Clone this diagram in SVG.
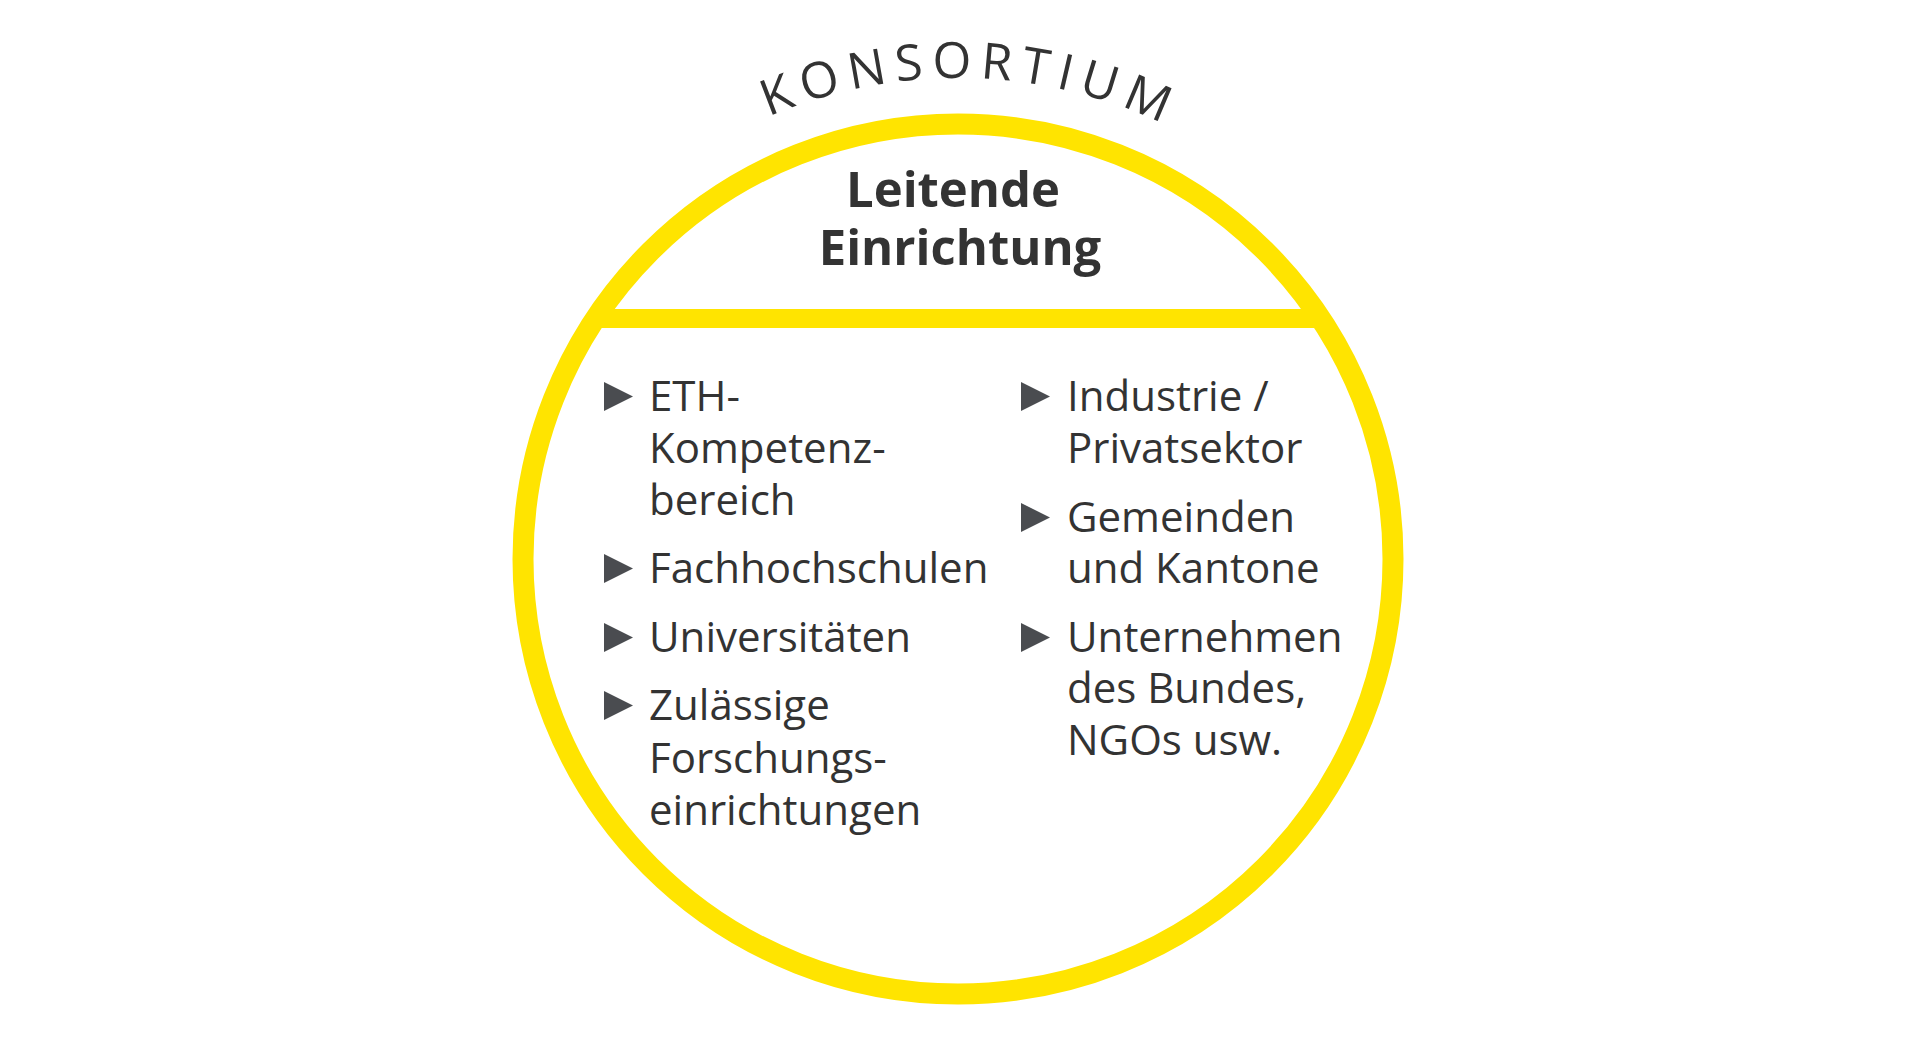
<svg xmlns="http://www.w3.org/2000/svg" xmlns:xlink="http://www.w3.org/1999/xlink" width="1919" height="1038" viewBox="0 0 1919 1038">
<style>
.t{font-family:"Open Sans","Noto Sans","Liberation Sans",sans-serif;font-size:42px;fill:#333333}
.k{font-family:"Open Sans","Noto Sans","Liberation Sans",sans-serif;font-size:50px;font-weight:500;fill:#333333;letter-spacing:8.7px;text-anchor:middle}
.h{font-family:"Open Sans","Noto Sans","Liberation Sans",sans-serif;font-size:49px;font-weight:700;fill:#333333;text-anchor:middle}
.ring{fill:none;stroke:#FFE400;stroke-width:21}
.bar{stroke:#FFE400;stroke-width:19}
.tri{fill:#4a4c50}
</style>
<defs>
<path id="arc" d="M 541.4 318.5 A 481 481 0 0 1 1374.6 318.5"/>
<polygon id="bullet" points="0,0 0,29 29,14.5"/>
</defs>
<rect width="1919" height="1038" fill="#ffffff"/>
<g id="title">
<text class="k"><textPath xlink:href="#arc" href="#arc" startOffset="516">KONSORTIUM</textPath></text>
</g>
<g id="consortium-circle">
<circle class="ring" cx="958" cy="559" r="435"/>
<line class="bar" x1="598" y1="318.5" x2="1318" y2="318.5"/>
</g>
<g id="lead">
<text class="h" x="953" y="207">Leitende</text>
<text class="h" x="960" y="265">Einrichtung</text>
</g>
<g id="left-column">
<use href="#bullet" xlink:href="#bullet" class="tri" x="604" y="382"/>
<text class="t" x="649" y="411">ETH-</text>
<text class="t" x="649" y="463">Kompetenz-</text>
<text class="t" x="649" y="515">bereich</text>
<use href="#bullet" xlink:href="#bullet" class="tri" x="604" y="554"/>
<text class="t" x="649" y="583">Fachhochschulen</text>
<use href="#bullet" xlink:href="#bullet" class="tri" x="604" y="623"/>
<text class="t" x="649" y="652">Universitäten</text>
<use href="#bullet" xlink:href="#bullet" class="tri" x="604" y="691"/>
<text class="t" x="649" y="720">Zulässige</text>
<text class="t" x="649" y="773">Forschungs-</text>
<text class="t" x="649" y="825">einrichtungen</text>
</g>
<g id="right-column">
<use href="#bullet" xlink:href="#bullet" class="tri" x="1021" y="382"/>
<text class="t" x="1067" y="411">Industrie /</text>
<text class="t" x="1067" y="463">Privatsektor</text>
<use href="#bullet" xlink:href="#bullet" class="tri" x="1021" y="503"/>
<text class="t" x="1067" y="532">Gemeinden</text>
<text class="t" x="1067" y="583">und Kantone</text>
<use href="#bullet" xlink:href="#bullet" class="tri" x="1021" y="623"/>
<text class="t" x="1067" y="652">Unternehmen</text>
<text class="t" x="1067" y="703">des Bundes,</text>
<text class="t" x="1067" y="755">NGOs usw.</text>
</g>
</svg>
